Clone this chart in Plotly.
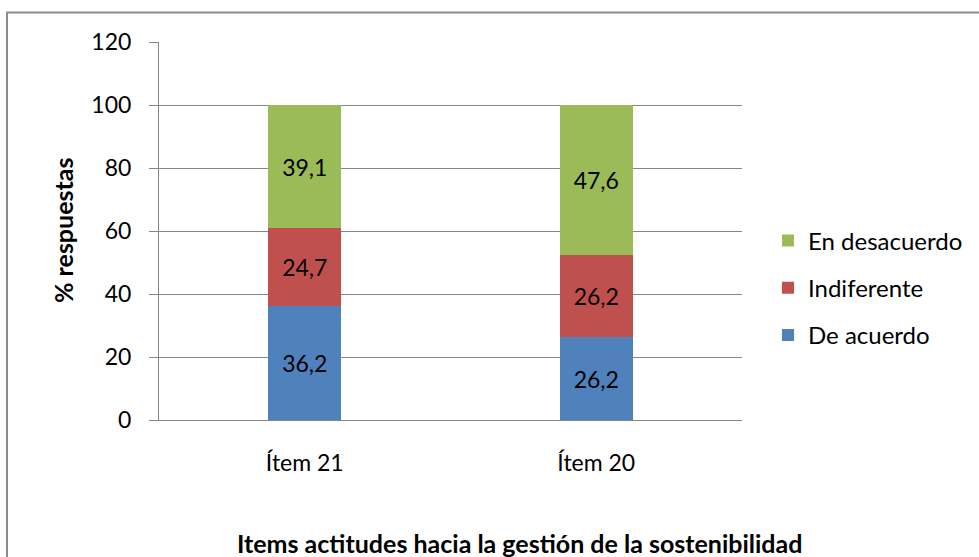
import plotly.graph_objects as go

# Items and response shares (%)
items = ["Ítem 21", "Ítem 20"]
de_acuerdo = [36.2, 26.2]
indiferente = [24.7, 26.2]
en_desacuerdo = [39.1, 47.6]

y_ticks = [0, 20, 40, 60, 80, 100, 120]

FONT = "Lato, Carlito, Calibri, sans-serif"
GRID = "#868686"

W, H = 979, 557
L, R, T, B = 159, 237, 42, 137
PW, PH = W - L - R, H - T - B


def px_x(p):
    return (p - L) / PW


def px_y(p):
    return (H - B - p) / PH


# (name, values, colour, legend rank) - stacked bottom to top, listed top to bottom
series = [
    ("De acuerdo", de_acuerdo, "#4F81BD", 3),
    ("Indiferente", indiferente, "#C0504D", 2),
    ("En desacuerdo", en_desacuerdo, "#9BBB59", 1),
]

fig = go.Figure()
for name, vals, color, rank in series:
    fig.add_trace(go.Bar(
        x=items, y=vals, name=name, legendgroup=name, legendrank=rank,
        marker=dict(color=color, line=dict(width=0)),
        width=0.25,
        texttemplate="%{y:.1f}", textposition="inside",
        insidetextanchor="middle", textangle=0,
        textfont=dict(family=FONT, size=23, color="black"),
        constraintext="none",
    ))

fig.update_layout(
    width=W, height=H,
    margin=dict(l=L, r=R, t=T, b=B, autoexpand=False),
    barmode="stack",
    separators=",.",
    paper_bgcolor="white", plot_bgcolor="white",
    font=dict(family=FONT, size=23, color="black"),
    showlegend=True,
    legend=dict(
        x=px_x(768), xanchor="left",
        y=px_y(288), yanchor="middle",
        traceorder="grouped", tracegroupgap=13,
        itemwidth=30,
        font=dict(family=FONT, size=24, color="black"),
        bgcolor="rgba(0,0,0,0)",
    ),
    xaxis=dict(
        range=[-0.5, 1.5], showline=True, linecolor=GRID, linewidth=1,
        ticks="", showgrid=False, ticklabelstandoff=22,
        tickfont=dict(family=FONT, size=23),
    ),
    yaxis=dict(
        range=[0, 120], tickvals=y_ticks, showgrid=True, gridcolor=GRID,
        gridwidth=1, showline=True, linecolor=GRID, linewidth=1,
        ticks="outside", ticklen=9, tickcolor=GRID, ticklabelstandoff=13,
        tickfont=dict(family=FONT, size=23), zeroline=False,
    ),
    annotations=[
        dict(text="<b>% respuestas</b>", xref="paper", yref="paper",
             x=px_x(63), y=px_y(231), xanchor="center", yanchor="middle",
             textangle=-90, showarrow=False,
             font=dict(family=FONT, size=25, color="black")),
        dict(text="<b>Items actitudes hacia la gestión de la sostenibilidad</b>",
             xref="paper", yref="paper",
             x=px_x(519), y=px_y(543), xanchor="center", yanchor="middle",
             showarrow=False,
             font=dict(family=FONT, size=25, color="black")),
    ],
    shapes=[
        dict(type="rect", xref="paper", yref="paper",
             x0=px_x(7), x1=px_x(1010), y0=px_y(590), y1=px_y(12.5),
             line=dict(color="#8C8C8C", width=2), layer="below"),
    ],
)

fig.write_html("out.html")
